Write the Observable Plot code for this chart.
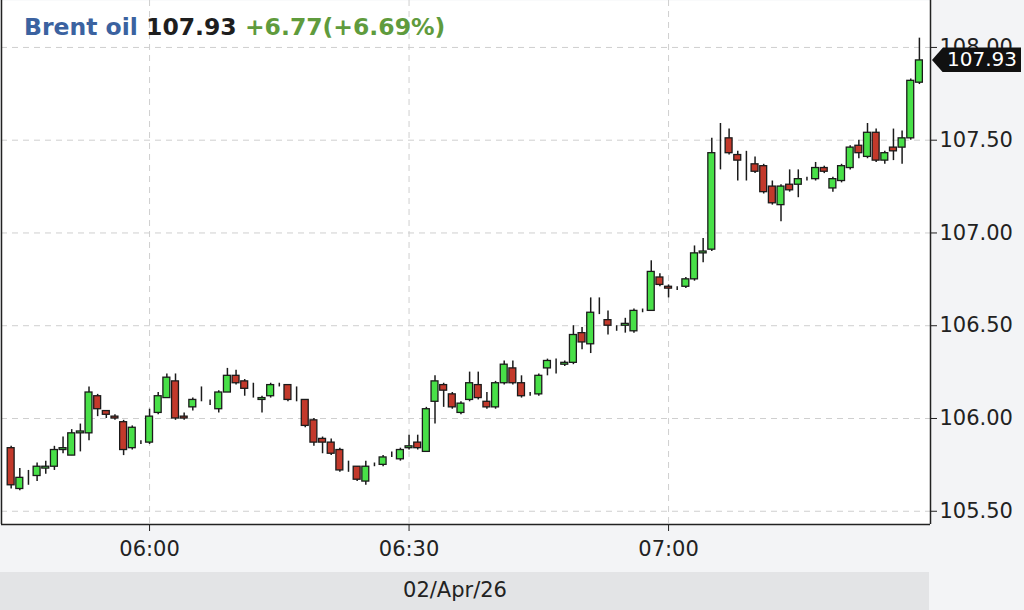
<!DOCTYPE html>
<html><head><meta charset="utf-8">
<script src="https://cdn.jsdelivr.net/npm/d3@7"></script>
<script src="https://cdn.jsdelivr.net/npm/@observablehq/plot@0.6"></script>
<style>
html,body{margin:0;padding:0;background:#f3f4f6;}
#wrap{position:relative;width:1024px;height:610px;overflow:hidden;background:#f3f4f6;font-family:"DejaVu Sans",sans-serif;}
#band{position:absolute;left:0;top:572px;width:929px;height:38px;background:#e3e4e6;}
#date{position:absolute;left:0;width:910px;top:578px;text-align:center;font-size:21px;color:#222;}
#chart{position:absolute;left:0;top:0;}
#title{position:absolute;left:24px;top:13px;font-weight:bold;font-size:23.5px;white-space:nowrap;}
#tag{position:absolute;left:932px;width:89px;height:25px;background:#111;color:#fff;font-size:20px;line-height:25px;text-align:right;box-sizing:border-box;padding-right:4px;clip-path:polygon(0 50%,11px 0,100% 0,100% 100%,11px 100%);}
</style></head>
<body>
<div id="wrap">
  <div id="band"></div>
  <div id="date"></div>
  <div id="chart"></div>
  <div id="title"></div>
  <div id="tag"></div>
</div>
<script>
// ---- data ----
const instrument = "Brent oil";
const lastPrice = "107.93";
const change = "+6.77(+6.69%)";
const dateLabel = "02/Apr/26";
const times = ["05:44","05:45","05:46","05:47","05:48","05:49","05:50","05:51","05:52","05:53","05:54","05:55","05:56","05:57","05:58","05:59",
"06:00","06:01","06:02","06:03","06:04","06:05","06:06","06:07","06:08","06:09","06:10","06:11","06:12","06:13","06:14","06:15","06:16","06:17","06:18","06:19","06:20","06:21","06:22","06:23","06:24","06:25","06:26","06:27","06:28","06:29",
"06:30","06:31","06:32","06:33","06:34","06:35","06:36","06:37","06:38","06:39","06:40","06:41","06:42","06:43","06:44","06:45","06:46","06:47","06:48","06:49","06:50","06:51","06:52","06:53","06:54","06:55","06:56","06:57","06:58","06:59",
"07:00","07:01","07:02","07:03","07:04","07:05","07:06","07:07","07:08","07:09","07:10","07:11","07:12","07:13","07:14","07:15","07:16","07:17","07:18","07:19","07:20","07:21","07:22","07:23","07:24","07:25","07:26","07:27","07:28","07:29"];
const open = [105.84,105.62,105.68,105.69,105.73,105.74,105.83,105.80,105.92,105.92,106.12,106.04,106.01,105.98,105.84,105.87,
105.87,106.03,106.11,106.20,106.01,106.06,106.10,106.09,106.05,106.14,106.23,106.20,106.16,106.10,106.12,106.18,106.18,106.10,106.10,105.99,105.89,105.87,105.83,105.74,105.74,105.66,105.75,105.75,105.80,105.78,
105.84,105.87,105.82,106.09,106.18,106.13,106.03,106.10,106.18,106.09,106.06,106.19,106.27,106.19,106.13,106.13,106.27,106.31,106.29,106.30,106.46,106.40,106.57,106.53,106.49,106.50,106.47,106.58,106.58,106.76,
106.71,106.70,106.71,106.75,106.89,106.91,107.43,107.51,107.42,107.36,107.37,107.36,107.25,107.15,107.26,107.26,107.29,107.29,107.35,107.24,107.28,107.35,107.47,107.41,107.54,107.39,107.46,107.46,107.51,107.81];
const high = [105.85,105.73,105.72,105.76,105.77,105.85,105.90,105.94,105.97,106.17,106.13,106.04,106.02,105.99,105.96,105.88,
106.05,106.14,106.24,106.24,106.03,106.11,106.17,106.10,106.15,106.27,106.26,106.21,106.19,106.12,106.19,106.19,106.18,106.17,106.10,106.00,105.90,105.89,105.84,105.77,105.74,105.77,105.76,105.80,105.82,105.84,
105.91,105.91,106.06,106.23,106.19,106.14,106.09,106.25,106.25,106.14,106.20,106.31,106.31,106.23,106.14,106.24,106.32,106.32,106.31,106.50,106.49,106.65,106.65,106.58,106.50,106.54,106.59,106.59,106.85,106.78,
106.72,106.71,106.76,106.93,106.97,107.51,107.59,107.56,107.44,107.44,107.41,107.37,107.28,107.26,107.34,107.34,107.30,107.38,107.36,107.30,107.37,107.47,107.50,107.59,107.56,107.44,107.56,107.55,107.83,108.05];
const low = [105.62,105.61,105.64,105.66,105.70,105.72,105.81,105.80,105.82,105.88,106.01,106.00,105.99,105.80,105.83,105.86,
105.86,106.02,106.11,105.99,105.99,106.04,106.09,106.07,106.03,106.14,106.18,106.12,106.11,106.03,106.11,106.17,106.09,106.09,105.95,105.85,105.81,105.80,105.71,105.71,105.66,105.64,105.74,105.74,105.79,105.77,
105.83,105.83,105.82,105.97,106.06,106.05,106.02,106.09,106.10,106.05,106.05,106.18,106.18,106.11,106.12,106.12,106.23,106.24,106.28,106.29,106.37,106.35,106.56,106.45,106.47,106.46,106.46,106.57,106.58,106.71,
106.65,106.69,106.70,106.74,106.84,106.90,107.34,107.42,107.28,107.28,107.32,107.21,107.15,107.06,107.22,107.19,107.28,107.28,107.32,107.22,107.27,107.34,107.40,107.40,107.38,107.37,107.39,107.37,107.50,107.80];
const close = [105.64,105.68,105.68,105.74,105.74,105.83,105.84,105.92,105.93,106.14,106.05,106.02,106.00,105.83,105.95,105.87,
106.01,106.12,106.22,106.00,106.00,106.10,106.10,106.09,106.14,106.23,106.19,106.16,106.16,106.11,106.18,106.18,106.10,106.10,105.96,105.87,105.87,105.81,105.72,105.74,105.67,105.74,105.75,105.79,105.80,105.83,
105.85,105.84,106.05,106.20,106.15,106.06,106.08,106.19,106.11,106.06,106.19,106.29,106.19,106.12,106.13,106.23,106.31,106.31,106.30,106.45,106.41,106.57,106.57,106.50,106.49,106.51,106.58,106.58,106.79,106.72,
106.70,106.70,106.75,106.89,106.90,107.43,107.43,107.43,107.39,107.36,107.33,107.22,107.16,107.25,107.23,107.29,107.29,107.35,107.33,107.29,107.36,107.46,107.43,107.54,107.39,107.43,107.44,107.51,107.82,107.93];
const yTicks = [105.5, 106.0, 106.5, 107.0, 107.5, 108.0];
const xTickLabels = ["06:00", "06:30", "07:00"];

// ---- build ----
const T = (hm, s = 0) => new Date(Date.UTC(2026, 3, 2, +hm.slice(0, 2), +hm.slice(3, 5), s));
const data = times.map((t, i) => ({t: T(t), o: open[i], h: high[i], l: low[i], c: close[i]}));
const xTicks = xTickLabels.map(s => T(s));
const xDomain = [T("05:42", 53), T("07:30", 17)];
const yDomain = [105.4286, 108.253];
const half = 24000;
const green = "#48e048", red = "#c3392b", ink = "#1b1b1b";

const plot = Plot.plot({
  width: 1024, height: 610,
  marginLeft: 1, marginRight: 94, marginTop: 0, marginBottom: 86,
  style: {background: "transparent", fontFamily: "DejaVu Sans", fontSize: "21px", color: "#222", overflow: "visible"},
  x: {type: "utc", domain: xDomain},
  y: {domain: yDomain},
  color: {type: "identity"},
  marks: [
    Plot.frame({fill: "white", stroke: "none"}),
    Plot.gridY(yTicks, {stroke: "#cfcfcf", strokeOpacity: 1, strokeDasharray: "6,5"}),
    Plot.gridX(xTicks, {stroke: "#cfcfcf", strokeOpacity: 1, strokeDasharray: "6,5"}),
    Plot.ruleX(data, {x: "t", y1: "l", y2: "h", stroke: ink, strokeWidth: 1.5}),
    Plot.rect(data, {
      x1: d => new Date(+d.t - half), x2: d => new Date(+d.t + half),
      y1: "o", y2: "c",
      fill: d => d.c >= d.o ? green : red,
      stroke: ink, strokeWidth: 1.3
    }),
    Plot.ruleX([xDomain[0]], {stroke: "#222", strokeWidth: 1.5}),
    Plot.ruleX([xDomain[1]], {stroke: "#222", strokeWidth: 1.5}),
    Plot.ruleY([yDomain[0]], {stroke: "#222", strokeWidth: 1.5}),
    Plot.axisY(yTicks, {anchor: "right", tickFormat: d => d.toFixed(2), tickSize: 6, tickPadding: 3, label: null, stroke: "#222", fill: "#222"}),
    Plot.axisX(xTicks, {anchor: "bottom", tickFormat: d3.utcFormat("%H:%M"), tickSize: 7, tickPadding: 10, label: null, stroke: "#222", fill: "#222"})
  ]
});
document.getElementById("chart").appendChild(plot);

document.getElementById("title").innerHTML =
  `<span style="color:#3b62a0">${instrument}</span> <span style="color:#1e1e1e">${lastPrice}</span> <span style="color:#5f9b3d">${change}</span>`;
document.getElementById("date").textContent = dateLabel;
const tag = document.getElementById("tag");
tag.textContent = lastPrice;
const yLast = plot.scale("y").apply(close[close.length - 1]);
tag.style.top = (yLast - 12.5) + "px";
</script>
</body></html>
